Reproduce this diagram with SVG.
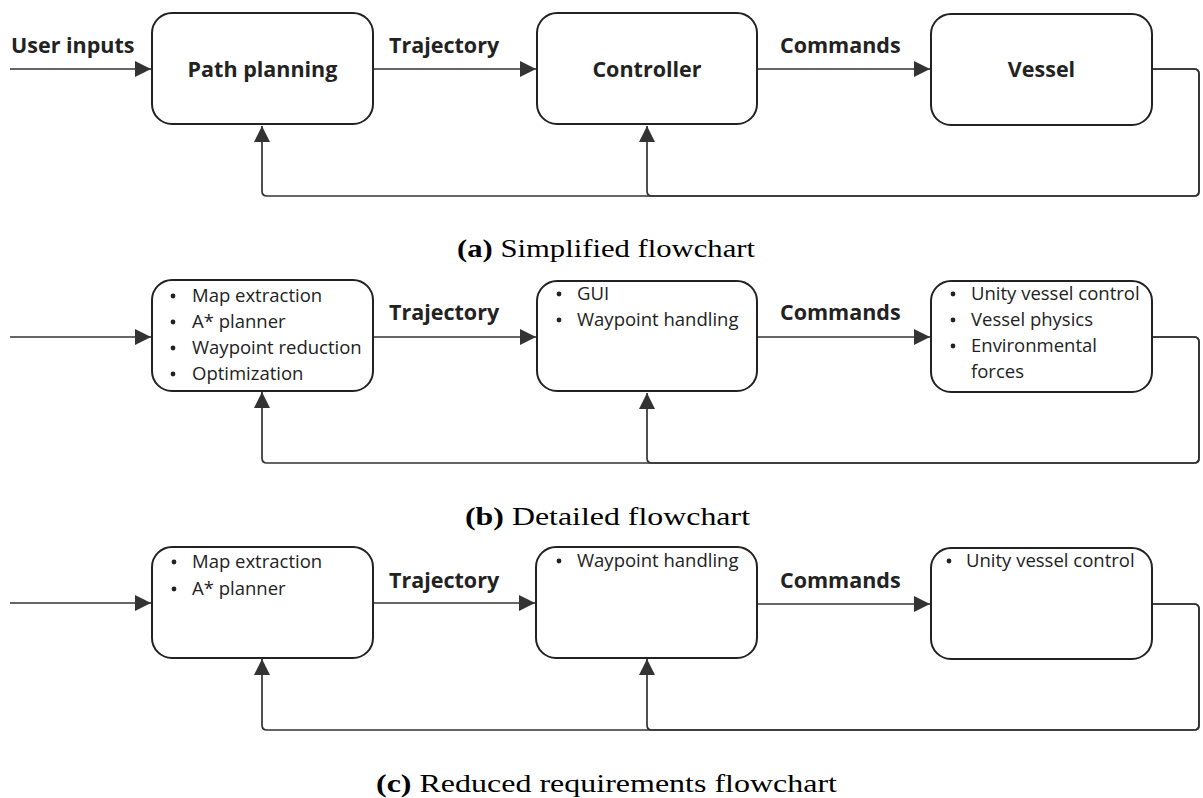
<svg xmlns="http://www.w3.org/2000/svg" width="1203" height="798" viewBox="0 0 1203 798">
<style>
.box{fill:#fff;stroke:#222;stroke-width:2}
.ln{fill:none;stroke:#333;stroke-width:1.7;stroke-linejoin:round}
.lbl{font-family:"Open Sans","Noto Sans",sans-serif;font-weight:bold;font-size:21.5px;fill:#222}
.blt{font-family:"Open Sans","Noto Sans",sans-serif;font-size:18.5px;fill:#222}
.cap{font-family:"Liberation Serif","DejaVu Serif",serif;font-size:25px;fill:#000}
.dot{fill:#222}
</style>
<defs>
<marker id="ah" markerUnits="userSpaceOnUse" markerWidth="17" markerHeight="16" refX="16" refY="8" orient="auto">
<path d="M0,0 L16,8 L0,16 z" fill="#333"/>
</marker>
</defs>

<!-- Panel (a) -->
<g id="panel-a">
<g id="connectors-a">
<path class="ln" d="M10,69 H151" marker-end="url(#ah)"/>
<path class="ln" d="M373,69 H536" marker-end="url(#ah)"/>
<path class="ln" d="M757,69 H930" marker-end="url(#ah)"/>
<path class="ln" d="M1152,69 H1194 Q1199,69 1199,74 V191 Q1199,196 1194,196 H652 Q647,196 647,191 V126" marker-end="url(#ah)"/>
<path class="ln" d="M1152,69 H1194 Q1199,69 1199,74 V191 Q1199,196 1194,196 H267 Q262,196 262,191 V126" marker-end="url(#ah)"/>
<text class="lbl" x="11" y="53">User inputs</text>
<text class="lbl" x="389" y="53">Trajectory</text>
<text class="lbl" x="780" y="53">Commands</text>
</g>
<g id="a-path"><rect class="box" x="152" y="13" width="221" height="111" rx="20"/><text class="lbl" x="262.5" y="77" text-anchor="middle">Path planning</text></g>
<g id="a-ctrl"><rect class="box" x="537" y="13" width="220" height="111" rx="20"/><text class="lbl" x="647" y="77" text-anchor="middle">Controller</text></g>
<g id="a-vessel"><rect class="box" x="931" y="14" width="221" height="111" rx="20"/><text class="lbl" x="1041.5" y="77" text-anchor="middle">Vessel</text></g>
<text class="cap" x="457" y="257" textLength="298" lengthAdjust="spacingAndGlyphs"><tspan font-weight="bold">(a)</tspan> Simplified flowchart</text>
</g>

<!-- Panel (b) -->
<g id="panel-b">
<g id="connectors-b">
<path class="ln" d="M10,337 H151" marker-end="url(#ah)"/>
<path class="ln" d="M373,337 H536" marker-end="url(#ah)"/>
<path class="ln" d="M757,337 H930" marker-end="url(#ah)"/>
<path class="ln" d="M1152,337 H1194 Q1199,337 1199,342 V458 Q1199,463 1194,463 H652 Q647,463 647,458 V393" marker-end="url(#ah)"/>
<path class="ln" d="M1152,337 H1194 Q1199,337 1199,342 V458 Q1199,463 1194,463 H267 Q262,463 262,458 V392" marker-end="url(#ah)"/>
<text class="lbl" x="389" y="320">Trajectory</text>
<text class="lbl" x="780" y="320">Commands</text>
</g>
<g id="b-path"><rect class="box" x="152" y="280" width="221" height="111" rx="20"/>
<circle class="dot" cx="173" cy="296" r="2.4"/><text class="blt" x="192" y="302">Map extraction</text>
<circle class="dot" cx="173" cy="322" r="2.4"/><text class="blt" x="192" y="328">A* planner</text>
<circle class="dot" cx="173" cy="348" r="2.4"/><text class="blt" x="192" y="354">Waypoint reduction</text>
<circle class="dot" cx="173" cy="374" r="2.4"/><text class="blt" x="192" y="380">Optimization</text>
</g>
<g id="b-ctrl"><rect class="box" x="537" y="281" width="220" height="110" rx="20"/>
<circle class="dot" cx="559" cy="294" r="2.4"/><text class="blt" x="577" y="300">GUI</text>
<circle class="dot" cx="559" cy="320" r="2.4"/><text class="blt" x="577" y="326">Waypoint handling</text>
</g>
<g id="b-vessel"><rect class="box" x="931" y="281" width="221" height="111" rx="20"/>
<circle class="dot" cx="953" cy="294" r="2.4"/><text class="blt" x="971" y="300">Unity vessel control</text>
<circle class="dot" cx="953" cy="320" r="2.4"/><text class="blt" x="971" y="326">Vessel physics</text>
<circle class="dot" cx="953" cy="346" r="2.4"/><text class="blt" x="971" y="352">Environmental</text>
<text class="blt" x="971" y="378">forces</text>
</g>
<text class="cap" x="465" y="525" textLength="285" lengthAdjust="spacingAndGlyphs"><tspan font-weight="bold">(b)</tspan> Detailed flowchart</text>
</g>

<!-- Panel (c) -->
<g id="panel-c">
<g id="connectors-c">
<path class="ln" d="M10,603 H151" marker-end="url(#ah)"/>
<path class="ln" d="M373,603 H535" marker-end="url(#ah)"/>
<path class="ln" d="M757,604 H930" marker-end="url(#ah)"/>
<path class="ln" d="M1152,604 H1194 Q1199,604 1199,609 V725 Q1199,730 1194,730 H652 Q647,730 647,725 V659" marker-end="url(#ah)"/>
<path class="ln" d="M1152,604 H1194 Q1199,604 1199,609 V725 Q1199,730 1194,730 H267 Q262,730 262,725 V659" marker-end="url(#ah)"/>
<text class="lbl" x="389" y="588">Trajectory</text>
<text class="lbl" x="780" y="588">Commands</text>
</g>
<g id="c-path"><rect class="box" x="152" y="547" width="221" height="111" rx="20"/>
<circle class="dot" cx="174" cy="562" r="2.4"/><text class="blt" x="192" y="568">Map extraction</text>
<circle class="dot" cx="174" cy="589" r="2.4"/><text class="blt" x="192" y="595">A* planner</text>
</g>
<g id="c-ctrl"><rect class="box" x="536" y="547" width="221" height="111" rx="20"/>
<circle class="dot" cx="559" cy="561" r="2.4"/><text class="blt" x="577" y="567">Waypoint handling</text>
</g>
<g id="c-vessel"><rect class="box" x="931" y="548" width="221" height="111" rx="20"/>
<circle class="dot" cx="949" cy="561" r="2.4"/><text class="blt" x="966" y="567">Unity vessel control</text>
</g>
<text class="cap" x="376" y="792" textLength="461" lengthAdjust="spacingAndGlyphs"><tspan font-weight="bold">(c)</tspan> Reduced requirements flowchart</text>
</g>
</svg>
